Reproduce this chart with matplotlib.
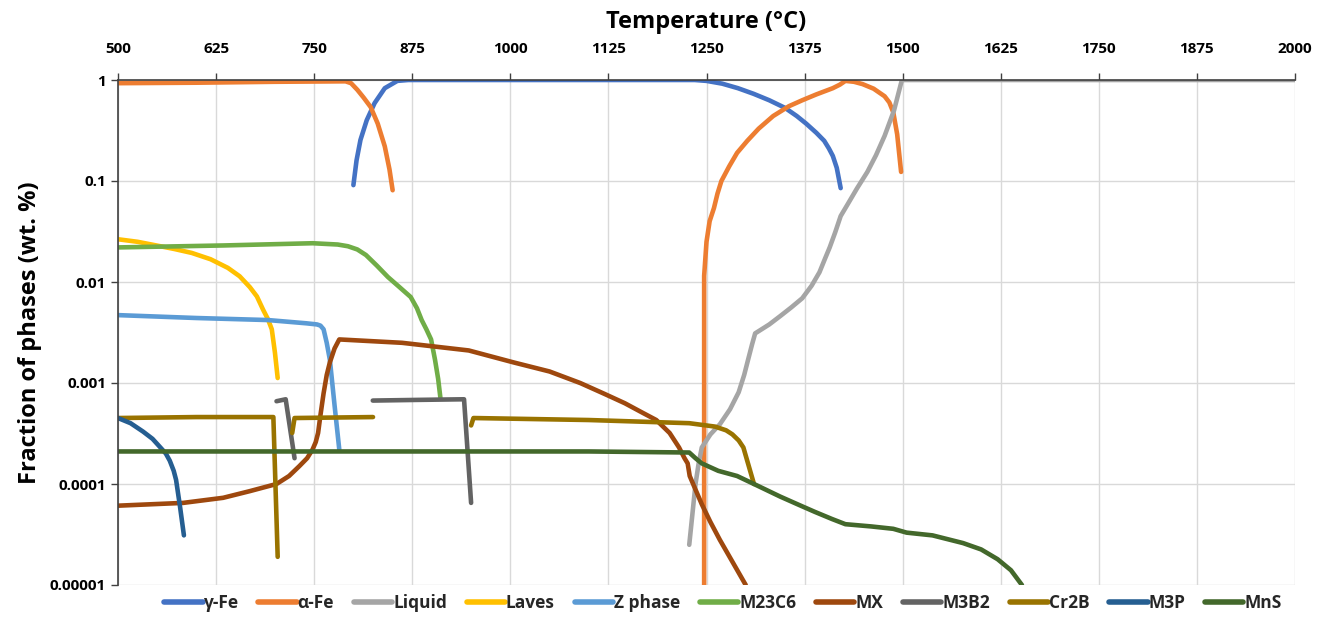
import numpy as np
import matplotlib.pyplot as plt
from matplotlib.ticker import FixedLocator, FixedFormatter, NullLocator

plt.rcParams['font.family'] = ['Open Sans', 'DejaVu Sans']

# phase fractions: (temperature, fraction)
gfe_T = [800, 804, 809, 817, 827, 840, 856, 870, 900, 1000, 1100, 1200, 1235, 1250, 1270, 1290, 1310, 1330, 1350, 1365, 1377, 1390, 1400, 1406, 1411, 1416, 1421]
gfe_y = [0.091, 0.16, 0.255, 0.4, 0.59, 0.83, 0.98, 1, 1, 1, 1, 1, 1, 0.98, 0.92, 0.83, 0.73, 0.63, 0.53, 0.44, 0.37, 0.3, 0.25, 0.21, 0.177, 0.135, 0.085]

afe1_T = [500, 600, 700, 790, 797, 805, 813, 822, 831, 840, 846, 850]
afe1_y = [0.93, 0.94, 0.96, 0.97, 0.93, 0.8, 0.67, 0.54, 0.37, 0.22, 0.13, 0.081]
afe2_T = [1247, 1247, 1250, 1254, 1259.5, 1264, 1269, 1279, 1289, 1302, 1316.5, 1335, 1355, 1372, 1390, 1411, 1420, 1427, 1438, 1449, 1463, 1477, 1483, 1488, 1493, 1498]
afe2_y = [0.00001, 0.0115, 0.025, 0.04, 0.054, 0.075, 0.1, 0.14, 0.19, 0.25, 0.33, 0.44, 0.55, 0.63, 0.72, 0.83, 0.9, 0.98, 0.96, 0.91, 0.82, 0.69, 0.6, 0.48, 0.29, 0.123]

liq_T = [1228, 1232, 1236, 1240, 1244, 1255, 1267, 1280, 1291, 1298, 1303, 1308, 1312, 1330, 1344, 1358, 1372, 1384, 1394, 1401, 1407, 1414, 1421, 1430, 1442, 1455, 1466, 1477, 1489, 1499, 1600, 1800, 2000]
liq_y = [2.5e-5, 5.0e-5, 1.0e-4, 1.6e-4, 2.3e-4, 3.1e-4, 3.9e-4, 5.5e-4, 8.1e-4, 1.2e-3, 1.7e-3, 2.4e-3, 3.1e-3, 3.8e-3, 4.6e-3, 5.6e-3, 6.9e-3, 9.2e-3, 0.0125, 0.017, 0.022, 0.031, 0.045, 0.059, 0.085, 0.123, 0.18, 0.28, 0.5, 1, 1, 1, 1]

lav_T = [500, 525, 549, 572, 594, 618, 640, 655, 668, 677, 685, 691, 696, 700, 703.5]
lav_y = [0.0265, 0.025, 0.023, 0.0212, 0.0194, 0.0168, 0.0138, 0.0114, 0.0089, 0.0072, 0.0053, 0.0043, 0.0034, 0.002, 0.00112]

zph_T = [500, 600, 691, 740, 753.6, 758, 762, 766, 770, 776, 782]
zph_y = [0.0047, 0.0044, 0.0042, 0.0039, 0.0038, 0.0037, 0.0034, 0.0025, 0.0017, 6e-4, 2.2e-4]

m23_T = [500, 634, 748, 780, 793, 805, 816, 830, 844, 858, 873, 881, 887, 893, 899, 904, 908, 911]
m23_y = [0.022, 0.023, 0.0242, 0.0235, 0.0226, 0.021, 0.0185, 0.0145, 0.0112, 0.009, 0.0071, 0.0055, 0.0042, 0.0034, 0.0027, 0.0017, 1.1e-3, 7e-4]

mx_T = [500, 583, 634, 668, 702, 718, 731, 741, 748, 752, 755, 758, 762, 766, 770, 776, 782, 862, 947, 1004, 1050, 1089, 1120, 1146, 1168, 1186, 1203, 1215, 1222, 1226, 1228.6, 1236, 1244, 1255, 1267, 1283, 1300]
mx_y = [6.1e-5, 6.5e-5, 7.3e-5, 8.5e-5, 1.0e-4, 1.2e-4, 1.5e-4, 1.8e-4, 2.2e-4, 2.6e-4, 3.2e-4, 4.8e-4, 7.9e-4, 1.2e-3, 1.6e-3, 2.2e-3, 2.7e-3, 2.5e-3, 2.1e-3, 1.6e-3, 1.3e-3, 1.0e-3, 7.8e-4, 6.3e-4, 5.1e-4, 4.3e-4, 3.2e-4, 2.3e-4, 1.8e-4, 1.6e-4, 1.2e-4, 8.8e-5, 6.3e-5, 4.2e-5, 2.8e-5, 1.7e-5, 1e-5]

m3b2a_T = [702, 713.7, 725]
m3b2a_y = [6.6e-4, 6.9e-4, 1.8e-4]
m3b2b_T = [824.7, 880, 941, 950]
m3b2b_y = [6.7e-4, 6.8e-4, 6.9e-4, 6.5e-5]

cr2b_T = [500, 600, 698, 703.5, None, 722, 725, 825, None, 950, 953, 1100, 1228, 1261, 1275, 1283, 1291, 1297, 1310.5]
cr2b_y = [4.5e-4, 4.6e-4, 4.6e-4, 1.9e-5, None, 3.2e-4, 4.5e-4, 4.6e-4, None, 3.8e-4, 4.5e-4, 4.3e-4, 4.0e-4, 3.7e-4, 3.4e-4, 3.1e-4, 2.7e-4, 2.3e-4, 1.0e-4]

m3p_T = [500, 516, 532, 544, 554, 561, 566, 571, 574, 579, 584]
m3p_y = [4.5e-4, 4.0e-4, 3.3e-4, 2.8e-4, 2.3e-4, 2.0e-4, 1.7e-4, 1.35e-4, 1.1e-4, 6e-5, 3.1e-5]

mns_T = [500, 800, 1100, 1228, 1236, 1244, 1265, 1289, 1310.5, 1344, 1368, 1388, 1410, 1427, 1460, 1488, 1505, 1538, 1577, 1600, 1621, 1638, 1652]
mns_y = [2.1e-4, 2.1e-4, 2.1e-4, 2.05e-4, 1.8e-4, 1.6e-4, 1.35e-4, 1.2e-4, 1.0e-4, 7.5e-5, 6.2e-5, 5.3e-5, 4.5e-5, 4.0e-5, 3.8e-5, 3.6e-5, 3.3e-5, 3.1e-5, 2.6e-5, 2.25e-5, 1.8e-5, 1.4e-5, 1e-5]

x_ticks = [500, 625, 750, 875, 1000, 1125, 1250, 1375, 1500, 1625, 1750, 1875, 2000]
y_ticks = [1e-5, 1e-4, 1e-3, 1e-2, 1e-1, 1]
y_labels = ['0.00001', '0.0001', '0.001', '0.01', '0.1', '1']


def seg(T, y):
    return [np.nan if v is None else v for v in T], [np.nan if v is None else v for v in y]


fig = plt.figure(figsize=(13.31, 6.28), dpi=100)
ax = fig.add_axes([118/1331, 1-585/628, (1295-118)/1331, (585-80)/628])

lw = 3.3
kw = dict(lw=lw, solid_capstyle='round', solid_joinstyle='round')
ax.plot(gfe_T, gfe_y, color='#4472C4', label='γ-Fe', **kw)
ax.plot(afe1_T, afe1_y, color='#ED7D31', label='α-Fe', **kw)
ax.plot(afe2_T, afe2_y, color='#ED7D31', **kw)
ax.plot(liq_T, liq_y, color='#A5A5A5', label='Liquid', **kw)
ax.plot(lav_T, lav_y, color='#FFC000', label='Laves', **kw)
ax.plot(zph_T, zph_y, color='#5B9BD5', label='Z phase', **kw)
ax.plot(m23_T, m23_y, color='#70AD47', label='M23C6', **kw)
ax.plot(mx_T, mx_y, color='#9E480E', label='MX', **kw)
ax.plot(m3b2a_T, m3b2a_y, color='#636363', label='M3B2', **kw)
ax.plot(m3b2b_T, m3b2b_y, color='#636363', **kw)
t, v = seg(cr2b_T, cr2b_y)
ax.plot(t, v, color='#997300', label='Cr2B', **kw)
ax.plot(m3p_T, m3p_y, color='#255E91', label='M3P', **kw)
ax.plot(mns_T, mns_y, color='#43682B', label='MnS', **kw)

ax.set_yscale('log')
ax.set_xlim(500, 2000)
ax.set_ylim(1e-5, 1)
ax.xaxis.set_major_locator(FixedLocator(x_ticks))
ax.yaxis.set_major_locator(FixedLocator(y_ticks))
ax.yaxis.set_major_formatter(FixedFormatter(y_labels))
ax.yaxis.set_minor_locator(NullLocator())
ax.xaxis.tick_top()
ax.xaxis.set_label_position('top')
ax.tick_params(axis='both', labelsize=11, length=5, color='#404040', width=1)
ax.tick_params(axis='x', pad=12)
for lab in ax.get_xticklabels() + ax.get_yticklabels():
    lab.set_fontweight('bold')

ax.grid(True, color='#D9D9D9', lw=1)
ax.set_axisbelow(True)
for s in ['right', 'bottom']:
    ax.spines[s].set_visible(False)
for s in ['left', 'top']:
    ax.spines[s].set_color('#404040')
    ax.spines[s].set_linewidth(1.2)

ax.set_xlabel('Temperature (°C)', fontsize=17, fontweight='bold', labelpad=10)
ax.set_ylabel('Fraction of phases (wt. %)', fontsize=17, fontweight='bold', labelpad=6)

leg = ax.legend(loc='center', bbox_to_anchor=(0.514, -18/505), ncol=11, frameon=False,
                fontsize=12.5, handlelength=2.2, handletextpad=0.05, columnspacing=1.15)
for txt in leg.get_texts():
    txt.set_fontweight('bold')
    txt.set_color('#262626')
for h in leg.legend_handles:
    h.set_linewidth(4)

fig.savefig('out.png', dpi=100)
